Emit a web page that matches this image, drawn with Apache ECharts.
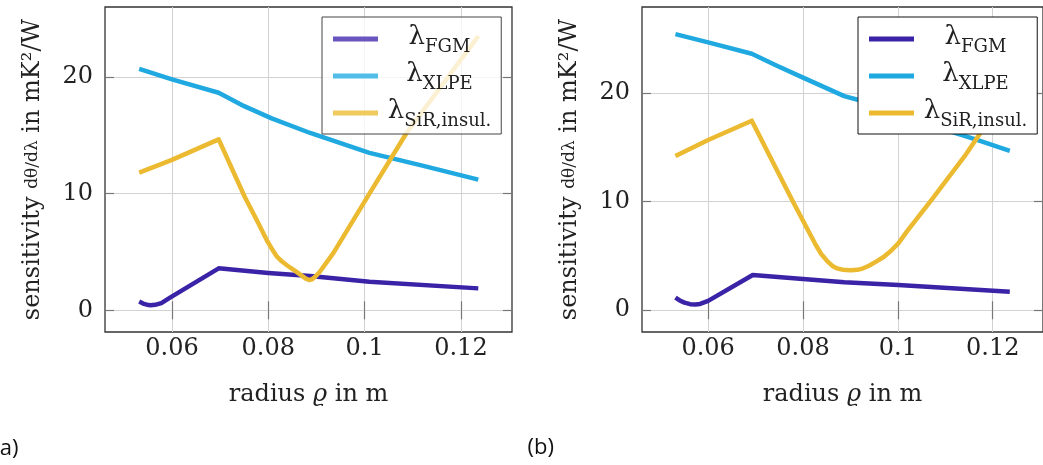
<!DOCTYPE html>
<html><head><meta charset="utf-8">
<script src="https://cdn.jsdelivr.net/npm/echarts@6/dist/echarts.min.js"></script>
<style>html,body{margin:0;padding:0;background:#fff}#c{width:1043px;height:465px}</style>
</head><body><div id="c"></div><script>
// tick labels
const xTicks = [0.06, 0.08, 0.1, 0.12];
const yTicks = [0, 10, 20];
// series names (subscripts of lambda)
const names = ['FGM', 'XLPE', 'SiR,insul.'];
// panel (a): [radius, sensitivity]
const fgmA = [[0.0532,0.75],[0.0540,0.58],[0.0548,0.48],[0.0556,0.44],[0.0565,0.47],[0.0578,0.62],[0.0596,1.08],[0.0697,3.6],[0.0800,3.2],[0.0887,2.94],[0.1010,2.45],[0.1236,1.88]];
const xlpeA = [[0.0532,20.7],[0.0600,19.8],[0.0697,18.65],[0.0750,17.5],[0.0807,16.45],[0.0887,15.2],[0.1010,13.5],[0.1120,12.4],[0.1236,11.2]];
const sirA = [[0.0532,11.8],[0.0600,12.9],[0.0697,14.65],[0.0751,9.73],[0.0776,7.74],[0.0797,6.0],[0.0807,5.3],[0.0817,4.65],[0.0828,4.2],[0.0840,3.82],[0.0855,3.4],[0.0868,3.02],[0.0878,2.72],[0.0885,2.6],[0.0891,2.66],[0.0898,2.9],[0.0907,3.3],[0.0935,4.9],[0.1010,10.0],[0.1087,15.2],[0.1236,23.5]];
// panel (b)
const fgmB = [[0.0531,1.16],[0.0540,0.9],[0.0550,0.7],[0.0562,0.56],[0.0573,0.53],[0.0583,0.58],[0.0600,0.86],[0.0694,3.25],[0.0800,2.87],[0.0887,2.58],[0.1001,2.33],[0.1236,1.71]];
const xlpeB = [[0.0531,25.4],[0.0600,24.65],[0.0692,23.6],[0.0745,22.5],[0.0800,21.4],[0.0887,19.7],[0.0921,19.3],[0.1000,18.1],[0.1100,16.6],[0.1167,15.67],[0.1236,14.66]];
const sirB = [[0.0531,14.2],[0.0600,15.67],[0.0692,17.44],[0.0777,10.15],[0.0825,6.16],[0.0838,5.2],[0.0852,4.47],[0.0862,4.08],[0.0872,3.85],[0.0884,3.73],[0.0900,3.68],[0.0915,3.72],[0.0927,3.86],[0.0940,4.12],[0.0955,4.5],[0.0970,4.9],[0.0985,5.45],[0.1001,6.16],[0.1020,7.3],[0.1071,10.15],[0.1140,14.13],[0.1174,16.3],[0.1236,20.3]];

const colors = ['#3b23a7', '#1fa9e0', '#ebba30'];
const legendColorsA = ['#6a55bf', '#52bde7', '#efca5c'];
const serif = 'DejaVu Serif';

const chart = echarts.init(document.getElementById('c'), null, {renderer: 'canvas'});

const xRange = [[0.0461, 0.1306], [0.04605, 0.1306]];
const yRange = [[-1.86, 26.0], [-2.0, 27.9]];
const grids = [
  {left: 105, top: 7, width: 407, height: 325, show: true, borderColor: '#333', borderWidth: 1.3, backgroundColor: 'transparent'},
  {left: 642, top: 7, width: 412, height: 325, show: true, borderColor: '#333', borderWidth: 1.3, backgroundColor: 'transparent'}
];

const tickStyle = {color: '#777', width: 1.2};
const xAxes = [], yAxes = [];
[0, 1].forEach(i => {
  xAxes.push({
    gridIndex: i, type: 'value', min: xRange[i][0], max: xRange[i][1], position: 'bottom',
    axisLine: {show: false},
    axisTick: {show: true, inside: true, length: 9, customValues: xTicks, lineStyle: tickStyle},
    axisLabel: {customValues: xTicks, fontFamily: serif, fontSize: 24, color: '#222', margin: 5,
      formatter: v => String(+v.toFixed(2))},
    splitLine: {show: true, lineStyle: {color: '#d2d2d2', width: 1}},
    name: 'radius {it|ϱ} in m', nameLocation: 'middle', nameGap: 51,
    nameTextStyle: {fontFamily: serif, fontSize: 24, color: '#222',
      rich: {it: {fontFamily: serif, fontStyle: 'italic', fontSize: 24, color: '#222'}}}
  });
  xAxes.push({
    gridIndex: i, type: 'value', min: xRange[i][0], max: xRange[i][1], position: 'top',
    axisLine: {show: false},
    axisTick: {show: true, inside: true, length: 9, customValues: xTicks, lineStyle: tickStyle},
    axisLabel: {show: false}, splitLine: {show: false}
  });
  yAxes.push({
    gridIndex: i, type: 'value', min: yRange[i][0], max: yRange[i][1], position: 'left',
    axisLine: {show: false},
    axisTick: {show: true, inside: true, length: 9, customValues: yTicks, lineStyle: tickStyle},
    axisLabel: {customValues: yTicks, fontFamily: serif, fontSize: 24, color: '#222', margin: 12},
    splitLine: {show: true, lineStyle: {color: '#d2d2d2', width: 1}},
    name: 'sensitivity {f|dθ/dλ} in mK²/W', nameLocation: 'middle', nameGap: 60, nameRotate: 90,
    nameTextStyle: {fontFamily: serif, fontSize: 24, color: '#222',
      rich: {f: {fontFamily: serif, fontSize: 17, color: '#222'}}}
  });
  yAxes.push({
    gridIndex: i, type: 'value', min: yRange[i][0], max: yRange[i][1], position: 'right',
    axisLine: {show: false},
    axisTick: {show: true, inside: true, length: 9, customValues: yTicks, lineStyle: tickStyle},
    axisLabel: {show: false}, splitLine: {show: false}
  });
});

const dataSets = [[fgmA, xlpeA, sirA], [fgmB, xlpeB, sirB]];
const series = [];
[0, 1].forEach(i => {
  names.forEach((n, k) => {
    series.push({
      type: 'line', name: n, xAxisIndex: 2 * i, yAxisIndex: 2 * i,
      data: dataSets[i][k], symbol: 'none', smooth: false,
      lineStyle: {width: 4.5, color: colors[k], join: 'round', cap: 'butt'},
      itemStyle: {color: colors[k]}, z: 2
    });
  });
});

const legendText = {
  width: 113, fontFamily: serif, color: '#222',
  rich: {
    l: {fontFamily: serif, fontSize: 26, lineHeight: 30, verticalAlign: 'top', align: 'center', color: '#222'},
    s: {fontFamily: serif, fontSize: 18, lineHeight: 20, padding: [14, 0, 0, 0], verticalAlign: 'top', align: 'center', color: '#222'}
  }
};
const legendBase = {
  orient: 'vertical', top: 17, padding: [7, 10, 4, 11], itemGap: 5, z: 20,
  icon: 'rect', itemWidth: 45, itemHeight: 5, selectedMode: false,
  formatter: n => '{l|λ}{s|' + n + '}', textStyle: legendText
};

const option = {
  backgroundColor: '#fff',
  animation: false,
  grid: grids,
  xAxis: xAxes,
  yAxis: yAxes,
  series: series,
  legend: [
    Object.assign({}, legendBase, {
      left: 322, borderColor: '#444', borderWidth: 1, backgroundColor: 'rgba(255,255,255,0.78)',
      data: names.map((n, k) => ({name: n, itemStyle: {color: legendColorsA[k]}}))
    }),
    Object.assign({}, legendBase, {
      left: 858, borderColor: '#111', borderWidth: 1, backgroundColor: '#fff',
      data: names.map((n, k) => ({name: n, itemStyle: {color: colors[k]}}))
    })
  ],
  graphic: [
    {type: 'text', right: 1043 - 18.5, top: 438, style: {text: '(a)', font: '22px "Open Sans"', fill: '#111'}},
    {type: 'text', left: 527.5, top: 437, style: {text: '(b)', font: '22px "Open Sans"', fill: '#111'}}
  ]
};
chart.setOption(option);
</script></body></html>
